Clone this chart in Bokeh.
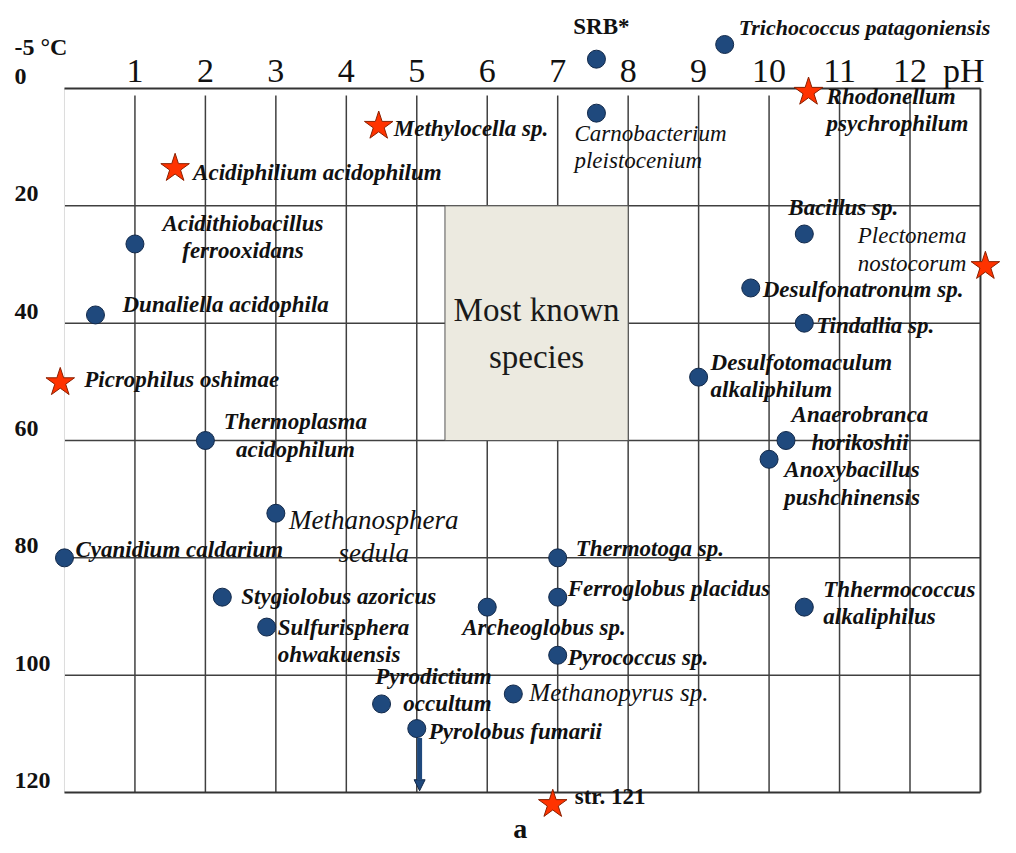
from bokeh.plotting import figure
from bokeh.models import ColumnDataSource, Range1d, Arrow, NormalHead
from bokeh.core.properties import value
from bokeh.embed import file_html
from bokeh.resources import INLINE

# ---------------- data ----------------
ph_ticks = [1, 2, 3, 4, 5, 6, 7, 8, 9, 10, 11, 12]
temp_grid = [20, 40, 60, 80, 100]
temp_ticks = [-5, 0, 20, 40, 60, 80, 100, 120]
temp_tick_labels = ["-5 °C", "0", "20", "40", "60", "80", "100", "120"]

circle_names = [
    "SRB*", "Trichococcus patagoniensis", "Carnobacterium pleistocenium",
    "Acidithiobacillus ferrooxidans", "Dunaliella acidophila",
    "Thermoplasma acidophilum", "Methanosphera sedula", "Cyanidium caldarium",
    "Stygiolobus azoricus", "Sulfurisphera ohwakuensis", "Archeoglobus sp.",
    "Ferroglobus placidus", "Thermotoga sp.", "Pyrococcus sp.",
    "Methanopyrus sp.", "Pyrodictium occultum", "Pyrolobus fumarii",
    "Bacillus sp.", "Desulfonatronum sp.", "Tindallia sp.",
    "Desulfotomaculum alkaliphilum", "Anaerobranca horikoshii",
    "Anoxybacillus pushchinensis", "Thhermococcus alkaliphilus",
]
circle_ph = [7.55, 9.37, 7.55, 1.0, 0.44, 2.0, 3.0, 0.0, 2.24, 2.87, 6.0,
             7.0, 7.0, 7.0, 6.37, 4.5, 5.0, 10.5, 9.74, 10.5, 9.0, 10.24,
             10.0, 10.5]
circle_temp = [-5, -7.5, 4.2, 26.5, 38.6, 60, 72.4, 80, 86.7, 91.8, 88.4,
               86.7, 80, 96.6, 103.2, 104.9, 109.1, 24.8, 34, 40, 49.2, 60,
               63.2, 88.4]

star_names = ["Methylocella sp.", "Acidiphilium acidophilum",
              "Rhodonellum psychrophilum", "Plectonema nostocorum",
              "Picrophilus oshimae", "str. 121"]
star_ph = [4.46, 1.57, 10.56, 13.07, -0.06, 6.93]
star_temp = [6.4, 13.6, 0.6, 30.3, 50.1, 122]

most_known_ph = [5.4, 8.0]
most_known_temp = [20, 60]
most_known_label = "Most known\nspecies"

arrow_species = "Pyrolobus fumarii"
panel_label = "a"

# ---------------- layout / style (not data) ----------------
PH_MIN, PH_MAX = 0, 13
T_MIN, T_MAX = 0, 120
FONT = value("Liberation Serif")
BLUE, BLUE_EDGE = "#1F497D", "#12294A"
RED, RED_EDGE = "#FF3300", "#8B2000"
GRID = "#404040"

# name -> (dx px, dy px, align, style, size, wrap)
label_layout = {
    "SRB*": (5, -33, "center", "bold", "23px", False),
    "Trichococcus patagoniensis": (14, -17, "left", "bold italic", "22px", False),
    "Carnobacterium pleistocenium": (-22, 34, "left", "italic", "23px", True),
    "Acidithiobacillus ferrooxidans": (108, -7, "center", "bold italic", "23px", True),
    "Dunaliella acidophila": (27, -10, "left", "bold italic", "23px", False),
    "Thermoplasma acidophilum": (90, -5, "center", "bold italic", "23px", True),
    "Methanosphera sedula": (98, 23, "center", "italic", "27px", True),
    "Cyanidium caldarium": (11, -8, "left", "bold italic", "23px", False),
    "Stygiolobus azoricus": (19, -1, "left", "bold italic", "23px", False),
    "Sulfurisphera ohwakuensis": (11, 14, "left", "bold italic", "23px", True),
    "Archeoglobus sp.": (-25, 20, "left", "bold italic", "23px", False),
    "Ferroglobus placidus": (10, -9, "left", "bold italic", "23px", False),
    "Thermotoga sp.": (18, -9, "left", "bold italic", "23px", False),
    "Pyrococcus sp.": (10, 2, "left", "bold italic", "23px", False),
    "Methanopyrus sp.": (16, -1, "left", "italic", "25px", False),
    "Pyrodictium occultum": (110, -14, "right", "bold italic", "23px", True),
    "Pyrolobus fumarii": (12, 3, "left", "bold italic", "23px", False),
    "Bacillus sp.": (-16, -26, "left", "bold italic", "23px", False),
    "Desulfonatronum sp.": (12, 2, "left", "bold italic", "23px", False),
    "Tindallia sp.": (12, 2, "left", "bold italic", "23px", False),
    "Desulfotomaculum alkaliphilum": (12, -1, "left", "bold italic", "23px", True),
    "Anaerobranca horikoshii": (74, -12, "center", "bold italic", "23px", True),
    "Anoxybacillus pushchinensis": (83, 24, "center", "bold italic", "23px", True),
    "Thhermococcus alkaliphilus": (19, -4, "left", "bold italic", "23px", True),
    "Methylocella sp.": (15, 2, "left", "bold italic", "23px", False),
    "Acidiphilium acidophilum": (18, 4, "left", "bold italic", "23px", False),
    "Rhodonellum psychrophilum": (18, 18, "left", "bold italic", "23px", True),
    "Plectonema nostocorum": (-19, -17, "right", "italic", "23px", True),
    "Picrophilus oshimae": (24, -3, "left", "bold italic", "23px", False),
    "str. 121": (22, -8, "left", "bold", "23px", False),
}

# ---------------- figure ----------------
p = figure(frame_width=1008, frame_height=845,
           x_range=Range1d(-0.908, 13.398), y_range=Range1d(129.03, -15.0),
           x_axis_location=None, y_axis_location=None,
           toolbar_location=None, output_backend="svg",
           min_border=0, outline_line_color=None)
p.grid.grid_line_color = None

# grid lines
n = len(ph_ticks)
p.segment(x0=ph_ticks, y0=[T_MIN + 1.2] * n, x1=ph_ticks, y1=[T_MAX] * n,
          line_color=GRID, line_width=1.5)
m = len(temp_grid)
p.segment(x0=[PH_MIN] * m, y0=temp_grid, x1=[PH_MAX] * m, y1=temp_grid,
          line_color=GRID, line_width=1.5)

# "most known species" box
p.quad(left=[most_known_ph[0]], right=[most_known_ph[1]],
       top=[most_known_temp[0]], bottom=[most_known_temp[1]],
       fill_color="#ECEAE0", line_color="#555555", line_width=1)
p.text(x=[sum(most_known_ph) / 2], y=[sum(most_known_temp) / 2],
       text=[most_known_label], text_align="center", text_baseline="middle",
       y_offset=10, text_font=FONT, text_font_size="33px",
       text_line_height=1.3, text_color="#1a1a1a")

# frame borders
p.segment(x0=[PH_MIN], y0=[T_MIN], x1=[PH_MIN], y1=[T_MAX],
          line_color="#dddddd", line_width=1)
p.segment(x0=[PH_MIN, PH_MIN, PH_MAX], y0=[T_MIN, T_MAX, T_MIN],
          x1=[PH_MAX, PH_MAX, PH_MAX], y1=[T_MIN, T_MAX, T_MAX],
          line_color="#333333", line_width=2)

# tick labels
p.text(x=ph_ticks, y=[-3.0] * n, text=[str(v) for v in ph_ticks],
       text_align="center", text_baseline="middle",
       text_font=FONT, text_font_size="34px", text_color="#111111")
p.text(x=[12.47], y=[-3.0], text=["pH"], text_align="left",
       text_baseline="middle", text_font=FONT, text_font_size="34px",
       text_color="#111111")
p.text(x=[-0.71] * len(temp_ticks), y=temp_ticks, text=temp_tick_labels,
       text_align="left", text_baseline="middle", y_offset=-12,
       text_font=FONT, text_font_size="24px", text_font_style="bold",
       text_color="#111111")

# panel label below the chart
p.text(x=[6.47], y=[T_MAX], text=[panel_label], text_align="center",
       text_baseline="middle", y_offset=36, text_font=FONT,
       text_font_size="28px", text_font_style="bold", text_color="#111111")

# arrow below Pyrolobus fumarii
ai = circle_names.index(arrow_species)
p.add_layout(Arrow(end=NormalHead(size=11, fill_color=BLUE, line_color=BLUE_EDGE,
                                  line_width=1),
                   x_start=circle_ph[ai] + 0.04, y_start=circle_temp[ai] + 1.6,
                   x_end=circle_ph[ai] + 0.04, y_end=T_MAX - 0.3,
                   line_color=BLUE, line_width=5))

# points
p.scatter(x=circle_ph, y=circle_temp, marker="circle", size=18,
          fill_color=BLUE, line_color=BLUE_EDGE, line_width=1)
p.scatter(x=star_ph, y=star_temp, marker="star", size=30,
          fill_color=RED, line_color=RED_EDGE, line_width=1)

# labels
names = circle_names + star_names
xs = circle_ph + star_ph
ys = circle_temp + star_temp
lab = dict(x=[], y=[], text=[], dx=[], dy=[], align=[], style=[], size=[])
for nm, xv, yv in zip(names, xs, ys):
    dx, dy, al, st, sz, wrap = label_layout[nm]
    lab["x"].append(xv)
    lab["y"].append(yv)
    lab["text"].append(nm.replace(" ", "\n", 1) if wrap else nm)
    lab["dx"].append(dx)
    lab["dy"].append(dy)
    lab["align"].append(al)
    lab["style"].append(st)
    lab["size"].append(sz)
src = ColumnDataSource(lab)
p.text(x="x", y="y", text="text", source=src, x_offset="dx", y_offset="dy",
       text_align="align", text_baseline="middle", text_font=FONT,
       text_font_style="style", text_font_size="size", text_line_height=1.1,
       text_color="#111111")

open("out.html", "w").write(file_html(p, INLINE))
